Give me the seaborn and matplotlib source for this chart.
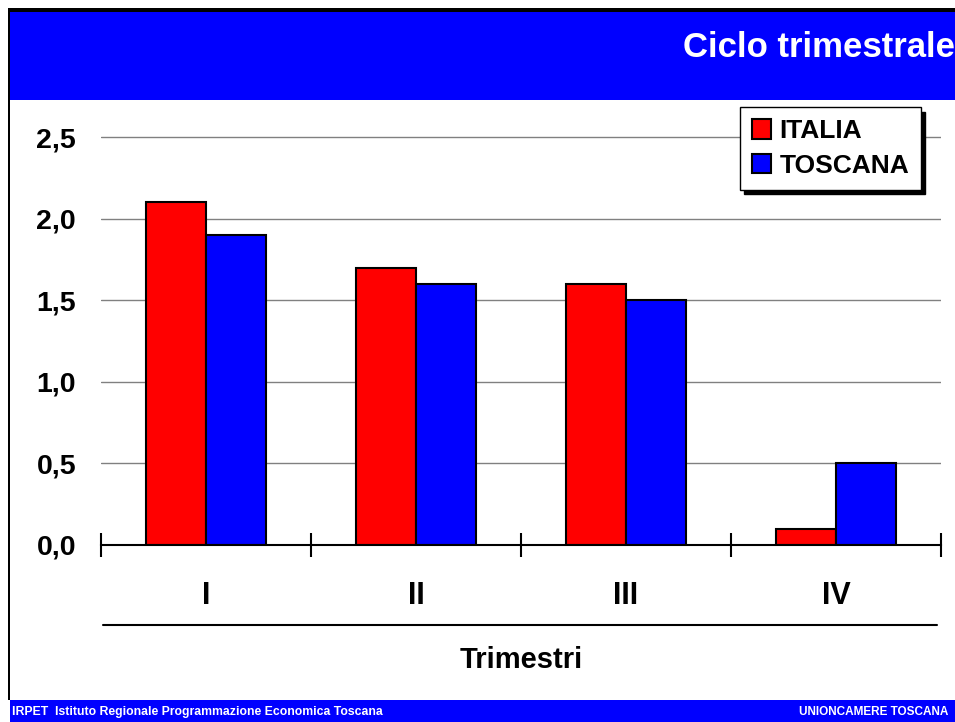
import pandas as pd
import seaborn as sns
import matplotlib.pyplot as plt
from matplotlib.ticker import FixedLocator, FuncFormatter

# Chart data
trimestri = ["I", "II", "III", "IV"]
italia = [2.1, 1.7, 1.6, 0.1]
toscana = [1.9, 1.6, 1.5, 0.5]
series = ["ITALIA", "TOSCANA"]
colors = ["#FF0000", "#0000FF"]

df = pd.DataFrame({
    "Trimestre": trimestri * 2,
    "Serie": [series[0]] * len(trimestri) + [series[1]] * len(trimestri),
    "Valore": italia + toscana,
})

sns.set_style("white")
plt.rcParams['font.family'] = ['Liberation Sans', 'DejaVu Sans']
plt.rcParams['font.weight'] = 'bold'
plt.rcParams['text.color'] = 'black'
plt.rcParams['xtick.color'] = 'black'
plt.rcParams['ytick.color'] = 'black'

fig = plt.figure(figsize=(9.55, 7.22), dpi=100)

# Header and footer bands
fig.patches.append(plt.Rectangle((0.0105, 0.862), 0.99, 0.124, transform=fig.transFigure,
                                 facecolor="#0000FF", edgecolor="none", zorder=0))
fig.patches.append(plt.Rectangle((0.0105, 0.0), 0.99, 0.0305, transform=fig.transFigure,
                                 facecolor="#0000FF", edgecolor="none", zorder=0))
# Black frame on top and left
fig.patches.append(plt.Rectangle((0.0084, 0.984), 0.992, 0.005, transform=fig.transFigure,
                                 facecolor="black", edgecolor="none", zorder=1))
fig.patches.append(plt.Rectangle((0.0084, 0.0305), 0.0021, 0.958, transform=fig.transFigure,
                                 facecolor="black", edgecolor="none", zorder=1))

fig.text(0.9995, 0.934, "Ciclo trimestrale", ha="right", va="center", color="white",
         fontsize=25, fontweight="bold")
fig.text(0.013, 0.0145, "IRPET  Istituto Regionale Programmazione Economica Toscana",
         ha="left", va="center", color="white", fontsize=8.8, fontweight="bold")
fig.text(0.993, 0.0145, "UNIONCAMERE TOSCANA", ha="right", va="center", color="white",
         fontsize=8.5, fontweight="bold")

ax = fig.add_axes([0.1058, 0.2452, 0.8796, 0.6102])
ax.set_facecolor("none")
sns.barplot(data=df, x="Trimestre", y="Valore", hue="Serie", palette=colors, saturation=1,
            width=0.571, edgecolor="black", linewidth=1.5, ax=ax, zorder=3)

ax.set_ylim(0, 2.7)
ax.set_xlim(-0.5, len(trimestri) - 0.5)
ax.set_yticks([0, 0.5, 1.0, 1.5, 2.0, 2.5])
ax.yaxis.set_major_formatter(FuncFormatter(lambda v, p: f"{v:.1f}".replace(".", ",")))
ax.yaxis.grid(True, color="#808080", linewidth=1)
ax.set_axisbelow(True)
ax.tick_params(axis="y", length=0, pad=18, labelsize=20.5)

ax.xaxis.set_minor_locator(FixedLocator([i - 0.5 for i in range(len(trimestri) + 1)]))
ax.tick_params(axis="x", which="major", length=0, pad=26, labelsize=22)
ax.tick_params(axis="x", which="minor", bottom=True, direction="inout", length=17,
               width=1.5, color="black")

for s in ["top", "right", "left"]:
    ax.spines[s].set_visible(False)
ax.spines["bottom"].set_color("black")
ax.spines["bottom"].set_linewidth(1.5)
ax.spines["bottom"].set_zorder(4)

ax.set_ylabel("")
ax.set_xlabel("")

# Line above axis title
ax.plot([0.002, 0.995], [-0.182, -0.182], transform=ax.transAxes, color="black",
        linewidth=1.5, clip_on=False)
ax.text(0.5, -0.261, "Trimestri", transform=ax.transAxes, ha="center", va="center",
        fontsize=21)

leg = ax.legend(loc="upper right", bbox_to_anchor=(0.976, 0.993), frameon=True, fancybox=False,
                shadow={"color": "black", "alpha": 1, "ox": 3, "oy": -3},
                edgecolor="black", fontsize=19,
                handlelength=0.75, handleheight=0.75, handletextpad=0.3,
                borderpad=0.45, labelspacing=0.4, borderaxespad=0)
leg.get_frame().set_linewidth(1)

fig.savefig("out.png", dpi=100)
